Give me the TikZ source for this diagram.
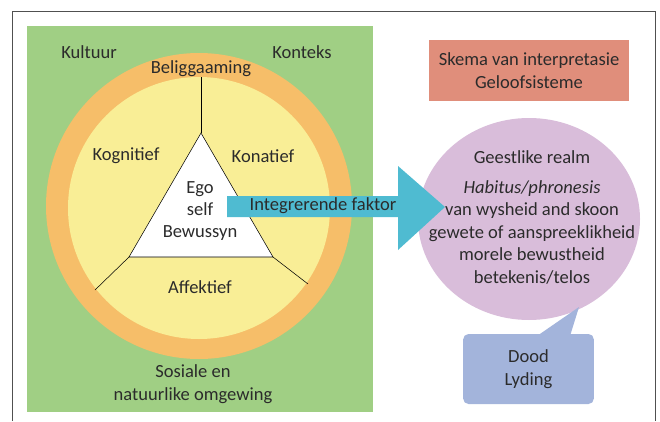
\documentclass[tikz,border=0pt]{standalone}
\usepackage{fontspec}
\setmainfont{Carlito}
\usetikzlibrary{shapes.geometric}
\definecolor{leafgreen}{HTML}{A0CF84}
\definecolor{ringorange}{HTML}{F6BE69}
\definecolor{coreyellow}{HTML}{F9EE96}
\definecolor{skemared}{HTML}{E08E7B}
\definecolor{realmpurple}{HTML}{D9BDDA}
\definecolor{doodblue}{HTML}{A3B4DB}
\definecolor{arrowcyan}{HTML}{4FBBD1}
\definecolor{textgray}{HTML}{2B2B2B}
\definecolor{framegray}{HTML}{505050}
\begin{document}
\begin{tikzpicture}[x=0.75pt,y=-0.75pt,font=\fontsize{13.9}{16.8}\selectfont,
    txt/.style={align=center, text=textgray, inner sep=0pt}]
        \useasboundingbox (0,0) rectangle (660,421);
        \draw[framegray] (12,421) -- (12,11) -- (655,11) -- (655,421);
        % green field with rings
        \fill[leafgreen] (27,26) rectangle (373,412);
        \fill[ringorange] (199,206) circle (153);
        \fill[coreyellow] (199,208) circle (131);
        \coordinate (apex) at (201,133);
        \coordinate (baseleft) at (129,257);
        \coordinate (baseright) at (273,257);
        \coordinate (rimtop) at (201,77);
        \coordinate (rimleft) at (95,290);
        \coordinate (rimright) at (308,284);
        \draw[fill=white] (apex) -- (baseleft) -- (baseright) -- cycle;
        \draw (apex) -- (rimtop);
        \draw (baseleft) -- (rimleft);
        \draw (baseright) -- (rimright);
        \node[txt] (kultuur) at (89,52) {Kultuur};
        \node[txt] (konteks) at (302,52) {Konteks};
        \node[txt] (beliggaaming) at (201,69) {Beliggaaming};
        \node[txt] (kognitief) at (126,156) {Kognitief};
        \node[txt] (konatief) at (263,156) {Konatief};
        \node[txt] (ego) at (200,211) {Ego\\self\\Bewussyn};
        \node[txt] (affektief) at (200,287) {Affektief};
        \node[txt] (omgewing) at (193,384) {Sosiale en\\natuurlike omgewing};
        % right side
        \node[txt, fill=skemared, minimum width=150pt, minimum height=45.75pt]
            (skema) at (529,70.5) {Skema van interpretasie\\Geloofsisteme};
        \node[ellipse, fill=realmpurple, minimum width=166.5pt, minimum height=151.5pt]
            (realm) at (529,219) {};
        \fill[doodblue] (537,336) -- (579,307) -- (570,336) -- cycle;
        \node[txt, fill=doodblue, rounded corners=4pt, minimum width=98pt, minimum height=52.5pt]
            (dood) at (528.5,369) {Dood\\Lyding};
        \node[txt] (realmtext) at (532,217) {Geestlike realm\\[6pt]\textit{Habitus/phronesis}\\van wysheid and skoon\\gewete of aanspreeklikheid\\morele bewustheid\\betekenis/telos};
        % integrating arrow
        \fill[arrowcyan] (227,196) -- (398,196) -- (398,166) -- (445,207)
            -- (398,250) -- (398,217) -- (227,217) -- cycle;
        \node[txt] (faktor) at (323,206) {Integrerende faktor};
    \end{tikzpicture}
\end{document}
